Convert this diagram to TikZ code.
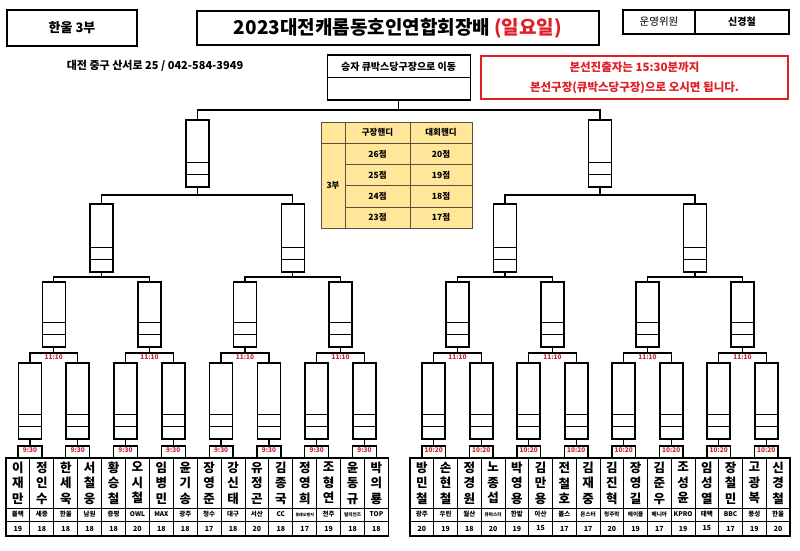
\documentclass[tikz,border=0pt]{standalone}
\usepackage{fontspec}
\setmainfont{Noto Sans CJK KR}
\usetikzlibrary{calc}
\definecolor{timered}{RGB}{200,35,45}
\definecolor{boxred}{RGB}{225,30,35}
\definecolor{handi}{RGB}{255,230,153}
\definecolor{handiline}{RGB}{90,80,60}
\tikzset{
  hbox/.style={draw, line width=1.2pt, inner sep=0pt, outer sep=0pt},
  lvbox/.style={draw, line width=1.6pt, minimum width=23pt, inner sep=0pt, outer sep=0pt},
  br/.style={line width=1.3pt},
  divthin/.style={line width=1pt},
  divthick/.style={line width=1.6pt},
  tlabel/.style={text=timered, font=\bfseries\fontsize{6.5}{6.5}\selectfont, anchor=north, inner sep=1.2pt},
  cell/.style={draw, line width=0.9pt, inner sep=0pt, outer sep=0pt},
  tcell/.style={draw=handiline, line width=0.6pt, fill=handi, inner sep=0pt, outer sep=0pt, font=\bfseries\fontsize{8.5}{8.5}\selectfont},
}
\begin{document}
\begin{tikzpicture}[x=1pt,y=-1pt]
\fill[white] (0,0) rectangle (800,551);
\path[use as bounding box] (0,0) rectangle (800,551);

% header
\node[hbox, minimum width=130pt, minimum height=36pt, font=\bfseries\fontsize{13}{13}\selectfont] (div) at (72,28) {한울 3부};
\node[draw, line width=2.5pt, inner sep=0pt, outer sep=0pt, minimum width=402pt, minimum height=34pt, font=\bfseries\fontsize{19}{19}\selectfont] (title) at (398,28) {2023대전캐롬동호인연합회장배 \textcolor{boxred}{(일요일)}};
\node[hbox, minimum width=72pt, minimum height=24pt, font=\fontsize{10.5}{10.5}\selectfont] (op1) at (659,22) {운영위원};
\node[hbox, minimum width=94pt, minimum height=24pt, font=\bfseries\fontsize{10}{10}\selectfont] (op2) at (742,22) {신경철};
\node[font=\bfseries\fontsize{11}{11}\selectfont] (addr) at (155,66) {대전 중구 산서로 25 / 042-584-3949};

% winner box
\node[hbox, minimum width=143pt, minimum height=45pt] (win) at (398.6,77.5) {};
\draw[line width=1.2pt] (win.west) -- (win.east);
\node[font=\bfseries\fontsize{10}{10}\selectfont] (wt) at ($(win.north)+(0,11.5)$) {승자 큐박스당구장으로 이동};

% red notice
\node[draw=boxred, line width=2.5pt, inner sep=0pt, outer sep=0pt, minimum width=307pt, minimum height=43pt] (rb) at (634.5,77.5) {};
\node[text=boxred, font=\bfseries\fontsize{11.5}{11.5}\selectfont] (rt1) at (634.5,67.5) {본선진출자는 15:30분까지};
\node[text=boxred, font=\bfseries\fontsize{11.5}{11.5}\selectfont] (rt2) at (634.5,87.5) {본선구장(큐박스당구장)으로 오시면 됩니다.};

% handicap table
\node[tcell, minimum width=24pt, minimum height=21.2pt] (h0) at (333,132.6) {};
\node[tcell, minimum width=65pt, minimum height=21.2pt] (h1) at (377.5,132.6) {구장핸디};
\node[tcell, minimum width=62pt, minimum height=21.2pt] (h2) at (441,132.6) {대회핸디};
\node[tcell, minimum width=24pt, minimum height=84.8pt] (h3) at (333,185.4) {3부};
\foreach \r/\y/\u/\v in {1/153.8/26점/20점, 2/175/25점/19점, 3/196.2/24점/18점, 4/217.4/23점/17점}{
  \node[tcell, minimum width=65pt, minimum height=21.2pt] (ga\r) at (377.5,\y) {\u};
  \node[tcell, minimum width=62pt, minimum height=21.2pt] (gb\r) at (441,\y) {\v};
}

% player table
\foreach \i/\ca/\cb/\cc/\team/\tf/\score in {
0/이/재/만/블랙/6.5/19, 1/정/인/수/세종/6.5/18, 2/한/세/욱/한울/6.5/18, 3/서/철/웅/남원/6.5/18,
4/황/승/철/증평/6.5/18, 5/오/시/철/OWL/6.5/20, 6/임/병/민/MAX/6.5/18, 7/윤/기/송/광주/6.5/18,
8/장/영/준/청수/6.5/17, 9/강/신/태/대구/6.5/18, 10/유/정/곤/서산/6.5/20, 11/김/종/국/CC/6.5/18,
12/정/영/희/동래오렌지/4/17, 13/조/형/연/전주/6.5/19, 14/윤/동/규/빌리언즈/4.6/18, 15/박/의/룡/TOP/6.5/18,
16/방/민/철/광주/6.5/20, 17/손/현/철/우린/6.5/19, 18/정/경/원/월산/6.5/18, 19/노/종/섭/큐마스터/4.6/20,
20/박/영/용/한밭/6.5/19, 21/김/만/용/아산/6.5/15, 22/전/철/호/볼스/6.5/17, 23/김/재/중/몬스터/5.6/17,
24/김/진/혁/청주락/5.6/20, 25/장/영/길/에이플/5.6/19, 26/김/준/우/매니아/5.6/17, 27/조/성/윤/KPRO/6.5/19,
28/임/성/열/태백/6.5/15, 29/장/철/민/BBC/6.5/17, 30/고/광/복/풍성/6.5/19, 31/신/경/철/한울/6.5/20}{
  \pgfmathsetmacro\cx{ifthenelse(\i<16, 6+23.9*(\i+0.5), 410+23.75*(\i-15.5))}
  \pgfmathsetmacro\cw{ifthenelse(\i<16, 23.9, 23.75)}
  \node[cell, minimum width=\cw pt, minimum height=50pt, align=center, font=\bfseries\fontsize{12.5}{15.5}\selectfont] (n\i) at (\cx,483) {\ca\\ \cb\\ \cc};
  \node[cell, minimum width=\cw pt, minimum height=13pt, font=\bfseries\fontsize{\tf}{\tf}\selectfont] (t\i) at (\cx,514.5) {\team};
  \node[cell, minimum width=\cw pt, minimum height=15pt, font=\bfseries\fontsize{7}{7}\selectfont] (s\i) at (\cx,528.5) {\score};
}
\draw[line width=1.7pt] (n0.north west) rectangle (s15.south east);
\draw[line width=1.7pt] (n16.north west) rectangle (s31.south east);

% bracket boxes
\foreach \j/\x in {0/29.9,1/77.7,2/125.5,3/173.3,4/221.1,5/268.9,6/316.7,7/364.5,8/433.75,9/481.25,10/528.75,11/576.25,12/623.75,13/671.25,14/718.75,15/766.25}
  \node[lvbox, minimum height=76pt] (a\j) at (\x,401) {};
\foreach \k/\x in {0/53.8,1/149.4,2/245.0,3/340.6,4/457.5,5/552.5,6/647.5,7/742.5}
  \node[lvbox, minimum height=65pt] (b\k) at (\x,314.5) {};
\foreach \m/\x in {0/101.6,1/292.8,2/505,3/695}
  \node[lvbox, minimum height=68pt] (c\m) at (\x,238) {};
\foreach \p/\x in {0/197.2,1/600}
  \node[lvbox, minimum height=67pt] (d\p) at (\x,153.5) {};

\foreach \nm in {a0,a1,a2,a3,a4,a5,a6,a7,a8,a9,a10,a11,a12,a13,a14,a15,b0,b1,b2,b3,b4,b5,b6,b7,c0,c1,c2,c3,d0,d1}{
  \draw[divthin] ($(\nm.south west)+(0,-25)$) -- ($(\nm.south east)+(0,-25)$);
  \draw[divthick] ($(\nm.south west)+(0,-12.5)$) -- ($(\nm.south east)+(0,-12.5)$);
}

% brackets: names -> first round
\foreach \j in {0,...,15}{
  \pgfmathtruncatemacro\pa{2*\j}\pgfmathtruncatemacro\pb{2*\j+1}
  \draw[br] (n\pa.north) -- ++(0,-12) coordinate (ha\j) -| (n\pb.north);
  \draw[br] (a\j.south) -- (a\j.south |- ha\j);
}
\foreach \j in {0,...,7} \node[tlabel] (ta\j) at (a\j.south |- ha\j) {9:30};
\foreach \j in {8,...,15} \node[tlabel] (ta\j) at (a\j.south |- ha\j) {10:20};

\foreach \k in {0,...,7}{
  \pgfmathtruncatemacro\pa{2*\k}\pgfmathtruncatemacro\pb{2*\k+1}
  \draw[br] (a\pa.north) -- ++(0,-10) coordinate (hb\k) -| (a\pb.north);
  \draw[br] (b\k.south) -- (b\k.south |- hb\k);
  \node[tlabel] (tb\k) at (b\k.south |- hb\k) {11:10};
}
\foreach \m in {0,...,3}{
  \pgfmathtruncatemacro\pa{2*\m}\pgfmathtruncatemacro\pb{2*\m+1}
  \draw[br] (b\pa.north) -- ++(0,-5) coordinate (hc\m) -| (b\pb.north);
  \draw[br] (c\m.south) -- (c\m.south |- hc\m);
}
\foreach \p in {0,1}{
  \pgfmathtruncatemacro\pa{2*\p}\pgfmathtruncatemacro\pb{2*\p+1}
  \draw[br] (c\pa.north) -- ++(0,-9) coordinate (hd\p) -| (c\pb.north);
  \draw[br] (d\p.south) -- (d\p.south |- hd\p);
}
\draw[br] (d0.north) -- ++(0,-10) coordinate (hw) -| (d1.north);
\draw[br] (win.south) -- (win.south |- hw);
\end{tikzpicture}
\end{document}
